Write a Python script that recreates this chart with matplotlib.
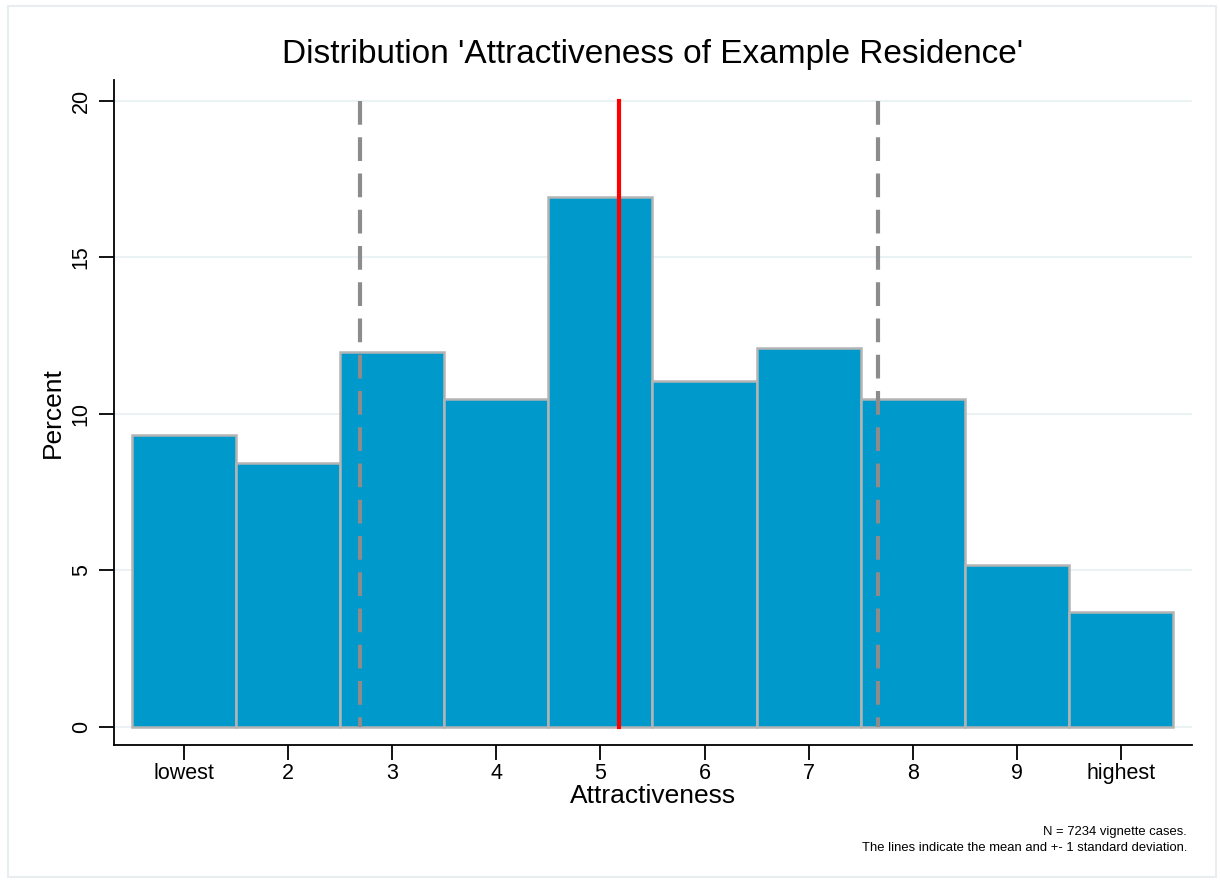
import matplotlib.pyplot as plt
from matplotlib.patches import Rectangle

plt.rcParams['font.family'] = ['Liberation Sans', 'DejaVu Sans']

# Daten: Anteil je Kategorie (Prozent)
kategorien = list(range(1, 11))
tick_labels = ["lowest", "2", "3", "4", "5", "6", "7", "8", "9", "highest"]
prozent = [9.33, 8.43, 11.98, 10.48, 16.93, 11.05, 12.11, 10.48, 5.18, 3.67]
mittelwert = 5.18
sd = 2.49

fig = plt.figure(figsize=(12.2, 8.83), dpi=100)
ax = fig.add_axes([114 / 1220, 1 - 745 / 883, (1192 - 114) / 1220, (745 - 80) / 883])

# Rahmen um die Grafik
fig.patches.append(Rectangle((8 / 1220, 6 / 883), 1 - 12 / 1220, 1 - 12 / 883,
                             transform=fig.transFigure, fill=False,
                             edgecolor='#e8eef0', linewidth=1.5))

ax.bar(kategorien, prozent, width=1.0, color='#0099cc', edgecolor='#b4b4b4',
       linewidth=1.8, zorder=2)

ax.plot([mittelwert, mittelwert], [20, 0], color='#ff0000', linewidth=3, zorder=3)
for x in [mittelwert - sd, mittelwert + sd]:
    ax.plot([x, x], [20, 0], color='#8c8c8c', linewidth=3,
            linestyle=(0, (5.7, 3)), zorder=3)

ax.set_xlim(0.328, 10.682)
ax.set_ylim(-0.575, 20.67)
ax.set_yticks([0, 5, 10, 15, 20])
ax.set_xticks(kategorien)
ax.set_xticklabels(tick_labels)
ax.yaxis.grid(True, color='#eaf2f3', linewidth=1.5, zorder=0)
ax.set_axisbelow(True)

for s in ['top', 'right']:
    ax.spines[s].set_visible(False)
for s in ['left', 'bottom']:
    ax.spines[s].set_linewidth(1.3)

ax.tick_params(axis='both', length=11, width=1.3, labelsize=15.5)
ax.tick_params(axis='x', pad=2)
ax.tick_params(axis='y', pad=5)
for lab in ax.get_yticklabels():
    lab.set_rotation(90)
    lab.set_va('center')

ax.set_xlabel("Attractiveness", fontsize=19, labelpad=0)
ax.set_ylabel("Percent", fontsize=19, labelpad=4)
ax.set_title("Distribution 'Attractiveness of Example Residence'", fontsize=24, pad=12)

fig.text(1187 / 1220, 1 - 832 / 883, "N = 7234 vignette cases.", ha='right',
         va='center', fontsize=9.4)
fig.text(1187 / 1220, 1 - 848 / 883,
         "The lines indicate the mean and +- 1 standard deviation.", ha='right',
         va='center', fontsize=9.4)

fig.savefig("out.png", dpi=100)
